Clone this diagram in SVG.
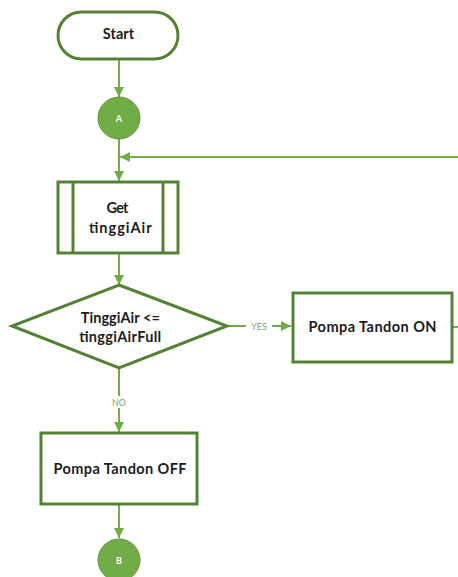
<svg xmlns="http://www.w3.org/2000/svg" width="458" height="577" viewBox="0 0 458 577">
  <style>
    .node { fill: #ffffff; stroke: #548235; stroke-width: 3; }
    .conn { fill: none; stroke: #70ad47; stroke-width: 2; }
    .conn-circle { fill: #70ad47; stroke: #5f963c; stroke-width: 1; }
    .label { font-family: Lato, "Open Sans", "Liberation Sans", sans-serif; font-weight: bold; font-size: 14.5px; fill: #1c1c1c; text-anchor: middle; }
    .clabel { font-family: Lato, "Liberation Sans", sans-serif; font-weight: bold; font-size: 9px; fill: #ffffff; text-anchor: middle; }
    .elabel { font-family: Lato, "Liberation Sans", sans-serif; font-size: 9px; fill: #84a866; text-anchor: middle; }
  </style>
  <defs>
    <marker id="arrow" viewBox="0 0 10 10" refX="10" refY="5" markerWidth="10" markerHeight="10" markerUnits="userSpaceOnUse" orient="auto">
      <path d="M0,0 L10,5 L0,10 Z" fill="#70ad47"/>
    </marker>
  </defs>
  <rect width="458" height="577" fill="#ffffff"/>

  <!-- connectors -->
  <g id="connectors">
    <line class="conn" x1="119" y1="60" x2="119" y2="97" marker-end="url(#arrow)"/>
    <line class="conn" x1="458" y1="157" x2="120" y2="157" marker-end="url(#arrow)"/>
    <line class="conn" x1="119" y1="139" x2="119" y2="181" marker-end="url(#arrow)"/>
    <line class="conn" x1="119" y1="254" x2="119" y2="285" marker-end="url(#arrow)"/>
    <line class="conn" x1="227" y1="326" x2="291" y2="326" marker-end="url(#arrow)"/>
    <rect x="246" y="320" width="26" height="12" fill="#ffffff"/>
    <text class="elabel" x="259" y="329.5">YES</text>
    <line class="conn" x1="452" y1="327" x2="458" y2="327"/>
    <line class="conn" x1="119" y1="368" x2="119" y2="432" marker-end="url(#arrow)"/>
    <rect x="109" y="396" width="20" height="12" fill="#ffffff"/>
    <text class="elabel" x="119" y="405.5">NO</text>
    <line class="conn" x1="119" y1="505" x2="119" y2="538" marker-end="url(#arrow)"/>
  </g>

  <!-- nodes -->
  <g id="start">
    <rect class="node" x="58" y="12" width="120" height="47" rx="23.5" ry="23.5"/>
    <text class="label" x="118.5" y="39" textLength="31.5" lengthAdjust="spacing">Start</text>
  </g>

  <g id="connector-a">
    <circle class="conn-circle" cx="119" cy="118" r="21"/>
    <text class="clabel" x="119" y="121.5">A</text>
  </g>

  <g id="get-tinggi-air">
    <rect class="node" x="58" y="182" width="120" height="71"/>
    <line class="node" x1="73" y1="182" x2="73" y2="253"/>
    <line class="node" x1="163" y1="182" x2="163" y2="253"/>
    <text class="label" x="117.5" y="212.7" textLength="22" lengthAdjust="spacing">Get</text>
    <text class="label" x="120.3" y="232.7" textLength="62.5" lengthAdjust="spacing">tinggiAir</text>
  </g>

  <g id="check-level">
    <polygon class="node" points="119,285 227,326 119,368 12,326"/>
    <text class="label" x="120.3" y="322.7" textLength="79" lengthAdjust="spacing">TinggiAir &lt;=</text>
    <text class="label" x="120.2" y="342.3" textLength="82" lengthAdjust="spacing">tinggiAirFull</text>
  </g>

  <g id="pump-on">
    <rect class="node" x="293" y="293" width="159" height="69"/>
    <text class="label" x="372.5" y="331.7" textLength="128" lengthAdjust="spacing">Pompa Tandon ON</text>
  </g>

  <g id="pump-off">
    <rect class="node" x="41" y="433" width="156" height="71"/>
    <text class="label" x="120" y="474.3" textLength="133" lengthAdjust="spacing">Pompa Tandon OFF</text>
  </g>

  <g id="connector-b">
    <circle class="conn-circle" cx="119" cy="560" r="21"/>
    <text class="clabel" x="119" y="563.5">B</text>
  </g>
</svg>
